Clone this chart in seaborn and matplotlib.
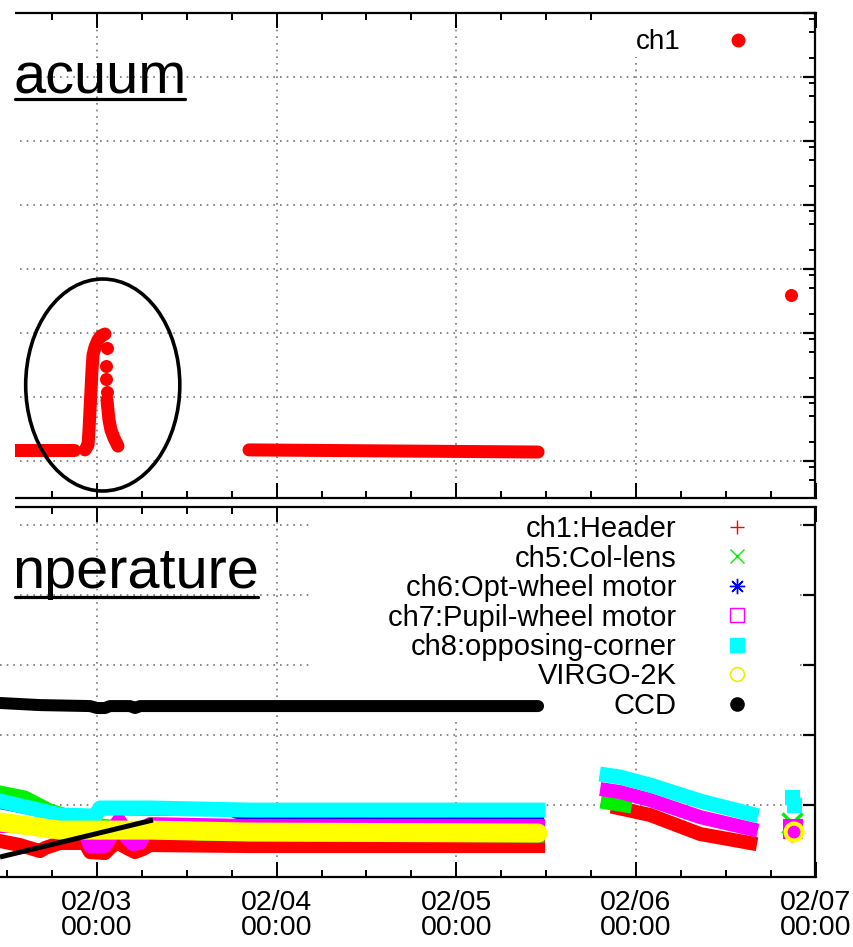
import matplotlib
matplotlib.use("Agg")
import matplotlib.pyplot as plt
import matplotlib.dates as mdates
from matplotlib.lines import Line2D
from matplotlib.patches import Ellipse, Rectangle
from matplotlib.ticker import LogLocator, NullFormatter, FixedLocator
import pandas as pd
import seaborn as sns

YEAR = "2015"

# ---------------- Vacuum panel (ch1) ----------------
vac_run1_time = ["02-02 11:00", "02-02 20:56"]
vac_run1_val = [1.49e-6, 1.49e-6]
vac_rise_time = ["02-02 22:24", "02-02 22:48", "02-02 22:56", "02-02 23:04", "02-02 23:12",
                 "02-02 23:20", "02-02 23:28", "02-02 23:44", "02-03 00:08", "02-03 00:32",
                 "02-03 01:04"]
vac_rise_val = [1.49e-6, 1.78e-6, 3.05e-6, 6.26e-6, 1.29e-5, 2.64e-5, 4.53e-5, 6.04e-5,
                7.78e-5, 8.98e-5, 9.64e-5]
vac_fall_time = ["02-03 01:20", "02-03 01:28", "02-03 01:36", "02-03 01:52", "02-03 02:16",
                 "02-03 02:48"]
vac_fall_val = [8.97e-6, 6.26e-6, 4.37e-6, 3.05e-6, 2.29e-6, 1.71e-6]
vac_run2_time = ["02-03 20:19", "02-05 10:56"]
vac_run2_val = [1.49e-6, 1.38e-6]
vac_pts_time = ["02-03 01:20", "02-03 01:12", "02-03 01:12", "02-03 01:20", "02-06 20:43"]
vac_pts_val = [5.83e-5, 3.05e-5, 1.91e-5, 1.20e-5, 3.9e-4]

# ---------------- Temperature panel ----------------
labels = ["ch1:Header", "ch5:Col-lens", "ch6:Opt-wheel motor", "ch7:Pupil-wheel motor",
          "ch8:opposing-corner", "VIRGO-2K", "CCD"]
colors = ["#ff0000", "#00f000", "#0000ff", "#ff00ff", "#00ffff", "#ffff00", "#000000"]

hdr_a_time = ["02-02 11:02", "02-02 13:43", "02-02 16:23", "02-02 17:03", "02-02 19:03",
              "02-02 22:24", "02-02 23:04", "02-03 01:04", "02-03 02:00", "02-03 02:48",
              "02-03 04:00", "02-03 05:05", "02-03 06:09", "02-03 07:05", "02-03 20:27",
              "02-05 10:56"]
hdr_a_val = [74.3, 71.4, 67.1, 69.3, 72.9, 72.9, 66.4, 65.7, 70.7, 72.9, 69.3, 66.4, 68.6,
             71.4, 70.7, 70.7]
hdr_b_time = ["02-05 21:37", "02-06 01:54", "02-06 08:35", "02-06 15:16"]
hdr_b_val = [97.9, 92.9, 79.3, 72.9]
hdr_c_time = ["02-06 20:52"]
hdr_c_val = [77.9]

col_a_time = ["02-02 11:02", "02-02 14:23", "02-02 17:43", "02-03 00:24", "02-03 13:46",
              "02-05 10:56"]
col_a_val = [109.3, 105.7, 96.4, 85.7, 79.3, 77.9]
col_b_time = ["02-05 20:09", "02-05 22:34"]
col_b_val = [101.4, 99.3]
col_c_time = ["02-06 20:52"]
col_c_val = [87.1]

opt_a_time = ["02-02 11:02", "02-02 19:03", "02-02 23:44", "02-03 00:24", "02-03 17:46",
              "02-03 18:43", "02-05 10:56"]
opt_a_val = [101.4, 92.9, 92.1, 97.1, 96.4, 94.3, 94.3]

pup_a_time = ["02-02 11:02", "02-02 21:44", "02-02 22:32", "02-02 23:04", "02-03 01:04",
              "02-03 01:44", "02-03 02:24", "02-03 02:56", "02-03 03:28", "02-03 04:00",
              "02-03 04:49", "02-03 05:45", "02-03 06:25", "02-03 07:05", "02-03 20:27",
              "02-05 10:56"]
pup_a_val = [85.0, 85.0, 78.6, 70.7, 70.7, 76.4, 85.0, 89.3, 85.0, 76.4, 72.1, 72.9, 80.7,
             86.4, 85.0, 85.0]
pup_b_time = ["02-05 20:09", "02-05 21:53", "02-06 01:54", "02-06 08:35", "02-06 15:23"]
pup_b_val = [110.7, 109.3, 103.6, 91.4, 82.9]
pup_c_time = ["02-06 21:00"]
pup_c_val = [82.9]

opp_a_time = ["02-02 11:02", "02-02 15:03", "02-02 19:03", "02-02 23:44", "02-03 00:24",
              "02-03 07:05", "02-03 20:27", "02-05 10:56"]
opp_a_val = [102.9, 97.9, 92.9, 92.1, 97.9, 97.9, 96.4, 96.4]
opp_b_time = ["02-05 20:09", "02-05 21:53", "02-06 01:54", "02-06 08:35", "02-06 15:23"]
opp_b_val = [121.4, 120.0, 114.3, 102.9, 93.6]
opp_c_time = ["02-06 20:52", "02-06 21:08"]
opp_c_val = [105.7, 100.0]

virgo_a_time = ["02-02 11:02", "02-02 15:03", "02-02 19:03", "02-03 07:05", "02-03 20:27",
                "02-05 10:56"]
virgo_a_val = [87.9, 85.0, 82.1, 82.1, 80.7, 80.0]
virgo_c_time = ["02-06 21:08"]
virgo_c_val = [80.7]

ccd_a_time = ["02-02 11:02", "02-02 16:23", "02-02 23:04", "02-03 00:00", "02-03 01:04",
              "02-03 01:44", "02-03 04:25", "02-03 05:05", "02-03 05:45", "02-05 10:56"]
ccd_a_val = [172.9, 171.4, 170.7, 169.3, 169.3, 170.7, 170.7, 169.3, 170.7, 170.7]

temp_ticks = [100, 150, 200, 250, 300]

# ---------------- helpers ----------------
def to_dt(times):
    return pd.to_datetime([f"{YEAR}-{t}" for t in times], format="%Y-%m-%d %H:%M")

def frame(segments):
    parts = [pd.DataFrame({"time": to_dt(t), "value": v, "seg": k})
             for k, (t, v) in enumerate(segments)]
    return pd.concat(parts, ignore_index=True)

PX = 0.72  # points per pixel at dpi 100

def band(ax, segments, color, lw_px, cap):
    sns.lineplot(data=frame(segments), x="time", y="value", units="seg", estimator=None,
                 sort=False, color=color, linewidth=lw_px * PX, ax=ax, legend=False,
                 solid_capstyle=cap, solid_joinstyle="round", zorder=2)

def pts(ax, t, v, marker, size_px, color, face=None, lw=0):
    sns.scatterplot(x=to_dt(t), y=v, marker=marker, s=(size_px * PX) ** 2,
                    color=color if face is None else face,
                    edgecolor=color, linewidth=lw, ax=ax, legend=False, zorder=2)

# ---------------- figure ----------------
sns.set_style("white")
plt.rcParams["font.family"] = ["Liberation Sans", "DejaVu Sans"]
plt.rcParams["text.color"] = "black"
plt.rcParams["xtick.color"] = "black"
plt.rcParams["ytick.color"] = "black"

W, H = 854, 947
fig = plt.figure(figsize=(W / 100, H / 100), dpi=100)
fx = lambda p: p / W
fy = lambda p: 1 - p / H
RIGHT = 815.5
ax1 = fig.add_axes([0, fy(498), fx(RIGHT), (498 - 13) / H])
ax2 = fig.add_axes([0, fy(877), fx(RIGHT), (877 - 507) / H], sharex=ax1)

# vacuum data
band(ax1, [(vac_run1_time, vac_run1_val), (vac_rise_time, vac_rise_val),
           (vac_fall_time, vac_fall_val), (vac_run2_time, vac_run2_val)],
     "#ff0000", 13, "round")
pts(ax1, vac_pts_time, vac_pts_val, "o", 13, "#ff0000")

# temperature data (drawing order as in the original)
band(ax2, [(hdr_a_time, hdr_a_val), (hdr_b_time, hdr_b_val)], colors[0], 14, "projecting")
band(ax2, [(col_a_time, col_a_val), (col_b_time, col_b_val)], colors[1], 13, "projecting")
band(ax2, [(opt_a_time, opt_a_val)], colors[2], 12, "projecting")
band(ax2, [(pup_a_time, pup_a_val), (pup_b_time, pup_b_val)], colors[3], 14, "projecting")
band(ax2, [(opp_a_time, opp_a_val), (opp_b_time, opp_b_val)], colors[4], 15, "projecting")
band(ax2, [(virgo_a_time, virgo_a_val)], colors[5], 19, "round")
band(ax2, [(ccd_a_time, ccd_a_val)], colors[6], 12, "round")

pts(ax2, hdr_c_time, hdr_c_val, "+", 12, colors[0], lw=2)
pts(ax2, col_c_time, col_c_val, "x", 20, colors[1], lw=2.5)
pts(ax2, pup_c_time, pup_c_val, "s", 20, colors[3])
pts(ax2, opp_c_time, opp_c_val, "s", 15, colors[4])
pts(ax2, virgo_c_time, virgo_c_val, "o", 17, colors[5], face="none", lw=3)

# ---------------- axes styling ----------------
xmin = pd.Timestamp(f"{YEAR}-02-02 11:02:24")
xmax = pd.Timestamp(f"{YEAR}-02-07 00:00")
ax2.set_xlim(xmin, xmax)
ax2.xaxis.set_major_locator(mdates.DayLocator())
ax2.xaxis.set_minor_locator(mdates.HourLocator(byhour=[6, 12, 18]))
ax2.xaxis.set_major_formatter(mdates.DateFormatter("%m/%d\n%H:%M"))

ax1.set_yscale("log")
ax1.set_ylim(2.64e-7, 10)
ax1.yaxis.set_major_locator(LogLocator(base=10, numticks=20))
ax1.yaxis.set_minor_locator(LogLocator(base=10, subs=(2, 5, 8), numticks=20))
ax1.yaxis.set_major_formatter(NullFormatter())
ax1.yaxis.set_minor_formatter(NullFormatter())

ax2.set_ylim(48.6, 312.9)
ax2.yaxis.set_major_locator(FixedLocator(temp_ticks))

for ax in (ax1, ax2):
    ax.set_xlabel("")
    ax.set_ylabel("")
    ax.set_axisbelow(True)
    ax.grid(True, which="major", linestyle=(0, (1, 3)), color="#777777", linewidth=1.2)
    ax.spines["left"].set_visible(False)
    for s in ("top", "bottom", "right"):
        ax.spines[s].set_linewidth(1.6)
        ax.spines[s].set_color("black")
    ax.tick_params(axis="both", which="both", direction="in", left=False, right=True,
                   top=True, bottom=True, labelleft=False, colors="black")
    ax.tick_params(axis="x", which="major", length=11, width=1.4)
    ax.tick_params(axis="x", which="minor", length=5, width=1.4)
    ax.tick_params(axis="y", which="major", length=9, width=1.6)
    ax.tick_params(axis="y", which="minor", length=4, width=1.4)

ax1.tick_params(axis="x", labelbottom=False)
ax2.tick_params(axis="x", labelbottom=True, labelsize=20.5, pad=9.5)

# white key boxes (grid hidden behind them)
ax1.add_patch(Rectangle((0.736, 0.909), 0.245, 0.091, transform=ax1.transAxes,
                        facecolor="white", edgecolor="none", zorder=1))
ax2.add_patch(Rectangle((0.380, 0.419), 0.597, 0.581, transform=ax2.transAxes,
                        facecolor="white", edgecolor="none", zorder=1))

# legends
h1 = [Line2D([], [], ls="none", marker="o", color="#ff0000", markersize=9)]
ax1.legend(h1, ["ch1"], loc="upper right", bbox_to_anchor=(0.939, 0.966), frameon=False,
           markerfirst=False, fontsize=20, handlelength=2, handletextpad=1.07,
           borderpad=0, borderaxespad=0, labelcolor="black")

h2 = [
    Line2D([], [], ls="none", marker="+", color=colors[0], markersize=10, markeredgewidth=1.0),
    Line2D([], [], ls="none", marker="x", color=colors[1], markersize=10, markeredgewidth=1.0),
    Line2D([], [], ls="none", marker=(8, 2, 0), color=colors[2], markersize=11, markeredgewidth=1.0),
    Line2D([], [], ls="none", marker="s", color=colors[3], markerfacecolor="none",
           markersize=10.5, markeredgewidth=1.0),
    Line2D([], [], ls="none", marker="s", color=colors[4], markersize=10.5),
    Line2D([], [], ls="none", marker="o", color="#eeee00", markerfacecolor="none",
           markersize=10, markeredgewidth=1.2),
    Line2D([], [], ls="none", marker="o", color=colors[6], markersize=9.5),
]
ax2.legend(h2, labels, loc="upper right", bbox_to_anchor=(0.9395, 0.978), frameon=False,
           markerfirst=False, fontsize=21, handlelength=2, handletextpad=1.07,
           borderpad=0, borderaxespad=0, labelspacing=0.05, labelcolor="black")

# annotations: ellipse around the pressure spike and the black pointer line
ax1.add_patch(Ellipse((0.126, 0.233), 0.189, 0.437, transform=ax1.transAxes,
                      fill=False, edgecolor="black", linewidth=2.6, zorder=10, clip_on=False))
ax2.add_line(Line2D([0.0, 0.1875], [0.054, 0.154], transform=ax2.transAxes, color="black",
                    linewidth=3.6, zorder=10, clip_on=False, solid_capstyle="butt"))

# left margin of the slide (white) and the panel titles
fig.add_artist(Rectangle((0, fy(600)), fx(15), 600 / H, transform=fig.transFigure,
                         facecolor="white", edgecolor="none", zorder=20))
fig.text(fx(14), fy(93), "acuum", fontsize=41.5, ha="left", va="baseline", zorder=30,
         color="black")
fig.add_artist(Line2D([fx(15), fx(185)], [fy(99), fy(99)], transform=fig.transFigure,
                      color="black", linewidth=2.3, zorder=30))
fig.text(fx(12), fy(588), "nperature", fontsize=41.5, ha="left", va="baseline", zorder=30,
         color="black")
fig.add_artist(Line2D([fx(15), fx(258)], [fy(597), fy(597)], transform=fig.transFigure,
                      color="black", linewidth=2.3, zorder=30))

fig.canvas.draw()
for lbl in ax2.get_xticklabels():
    lbl.set_linespacing(0.95)

fig.savefig("out.png", dpi=100)
